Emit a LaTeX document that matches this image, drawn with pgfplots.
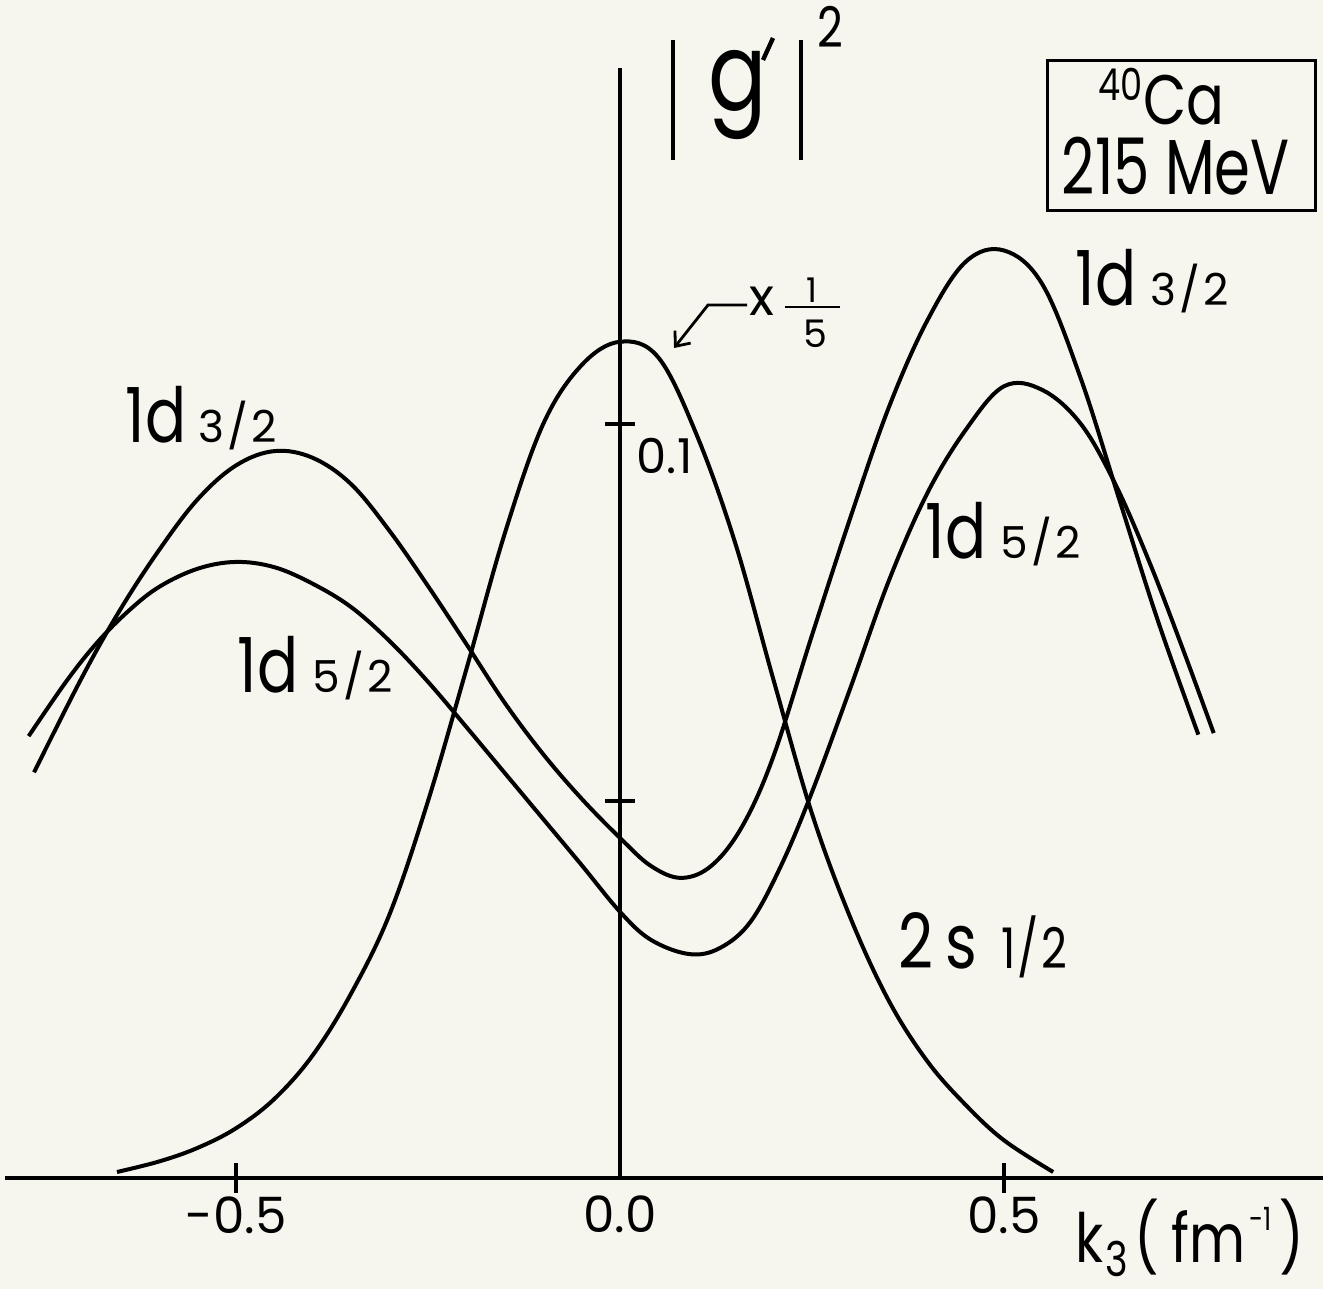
\documentclass[border=0pt]{standalone}
\usepackage{pgfplots}
\pgfplotsset{compat=1.18}
\usetikzlibrary{arrows.meta}
\usepackage{fontspec}
\setmainfont{Poppins}
\newfontfamily\narrow{Poppins}[FakeStretch=0.8]
\newfontfamily\condensed{Poppins}[FakeStretch=0.74]
\definecolor{paper}{RGB}{246,246,239}
\newcommand\fs[1]{\fontsize{#1}{#1}\selectfont}

% |g'|^2 for the nuclear orbitals of 40Ca at 215 MeV
\pgfplotstableread{
x y
-0.763 0.0538
-0.700 0.0665
-0.650 0.0755
-0.600 0.0833
-0.550 0.0900
-0.500 0.0945
-0.450 0.0964
-0.400 0.0955
-0.350 0.0920
-0.300 0.0858
-0.250 0.0785
-0.200 0.0708
-0.150 0.0630
-0.100 0.0562
-0.050 0.0503
0.000 0.0451
0.040 0.0414
0.080 0.0398
0.120 0.0415
0.160 0.0468
0.200 0.0560
0.250 0.0720
0.300 0.0876
0.350 0.1022
0.400 0.1137
0.450 0.1215
0.500 0.1230
0.550 0.1185
0.600 0.1060
0.650 0.0900
0.700 0.0740
0.753 0.0588
}\dthree

\pgfplotstableread{
x y
-0.770 0.0586
-0.720 0.0660
-0.680 0.0711
-0.640 0.0752
-0.600 0.0784
-0.550 0.0808
-0.500 0.0817
-0.450 0.0810
-0.400 0.0788
-0.350 0.0757
-0.300 0.0712
-0.250 0.0658
-0.200 0.0598
-0.150 0.0537
-0.100 0.0476
-0.050 0.0415
0.000 0.0353
0.040 0.0316
0.090 0.0297
0.130 0.0305
0.170 0.0340
0.210 0.0415
0.250 0.0512
0.300 0.0650
0.350 0.0792
0.400 0.0908
0.450 0.0992
0.500 0.1050
0.550 0.1045
0.600 0.1000
0.645 0.0920
0.690 0.0815
0.733 0.0701
0.773 0.0590
}\dfive

% 2s1/2 is shown scaled by 1/5
\pgfplotstableread{
x y
-0.655 0.0008
-0.600 0.0022
-0.550 0.0040
-0.500 0.0066
-0.450 0.0105
-0.400 0.0163
-0.350 0.0245
-0.300 0.0350
-0.250 0.0500
-0.200 0.0675
-0.150 0.0855
-0.100 0.1000
-0.050 0.1078
0.000 0.1109
0.050 0.1088
0.100 0.0985
0.150 0.0842
0.200 0.0660
0.250 0.0483
0.300 0.0345
0.350 0.0235
0.400 0.0155
0.450 0.0097
0.500 0.0050
0.564 0.0008
}\sone

\begin{document}
\begin{tikzpicture}
\fill[paper] (-1.25pt,-27.75pt) rectangle (329.5pt,294.5pt);
\begin{axis}[
  at={(0,0)}, anchor=south west,
  scale only axis, width=329.5pt, height=277.5pt,
  xmin=-0.8008, xmax=0.9154, ymin=0, ymax=0.1472,
  axis lines=middle,
  axis line style={-, line width=0.8pt, black},
  hide obscured x ticks=false, hide obscured y ticks=false,
  xtick={-0.5,0.5}, xticklabels={-0.5,0.5},
  extra x ticks={0}, extra x tick labels={0.0},
  extra x tick style={major tick length=0pt, xticklabel style={yshift=-3.5pt}},
  ytick={0.05,0.1}, yticklabels={},
  tick align=center, major tick length=7.5pt,
  tick style={line width=0.8pt, black},
  xticklabel style={font=\fs{12.5}, anchor=north, yshift=2.5pt},
  clip=false,
]
\addplot[black, line width=1pt, smooth, tension=0.6] table {\dthree};
\addplot[black, line width=1pt, smooth, tension=0.6] table {\dfive};
\addplot[black, line width=1pt, smooth, tension=0.6] table {\sone};
\end{axis}

% curve labels
\node[anchor=base west, inner sep=0] at (30pt,184pt)
  {\narrow\fs{19}1d\hspace{3pt}\rmfamily\fs{11}3\hspace{0.8pt}/\hspace{0.8pt}2};
\node[anchor=base west, inner sep=0] at (58pt,121.5pt)
  {\narrow\fs{19}1d\hspace{3.5pt}\rmfamily\fs{11}5\hspace{0.8pt}/\hspace{0.8pt}2};
\node[anchor=base west, inner sep=0] at (267.5pt,218.25pt)
  {\narrow\fs{19}1d\hspace{3.5pt}\rmfamily\fs{11}3\hspace{0.8pt}/\hspace{0.8pt}2};
\node[anchor=base west, inner sep=0] at (230pt,155pt)
  {\narrow\fs{19}1d\hspace{3.5pt}\rmfamily\fs{11}5\hspace{0.8pt}/\hspace{0.8pt}2};
\node[anchor=base west, inner sep=0] at (223.25pt,52.5pt)
  {\narrow\fs{19}2\hspace{3pt}s\hspace{6pt}\fs{14}1\hspace{0.5pt}/\hspace{0.5pt}2};

% y tick label
\node[anchor=north west, inner sep=0, font=\fs{12}] at (157.75pt,185.25pt) {0.1};

% scale factor of the 2s curve
\draw[line width=0.7pt, -{Straight Barb[length=3pt,width=5pt]}]
  (185.5pt,218.25pt) -- (175.75pt,218.25pt) -- (167.25pt,207.5pt);
\node[inner sep=0, font=\fs{13}] at (189.25pt,219.25pt) {x};
\node[anchor=base, inner sep=0, font=\fs{8.5}] at (201.75pt,219pt) {1};
\draw[line width=0.6pt] (195pt,217.75pt) -- (208.75pt,217.75pt);
\node[anchor=base, inner sep=0, font=\fs{9.5}] at (202.5pt,207.75pt) {5};

% y axis title |g'|^2
\draw[line width=1.1pt] (167pt,284.5pt) -- (167pt,254.5pt);
\draw[line width=1.1pt] (199pt,284.5pt) -- (199pt,254.5pt);
\node[anchor=base, inner sep=0] at (183.25pt,267pt) {\narrow\fs{27}g};
\draw[line width=1.1pt] (189.5pt,279.5pt) -- (192pt,285pt);
\node[anchor=base west, inner sep=0] at (203pt,282.75pt) {\narrow\fs{14}2};

% target box
\draw[line width=0.75pt] (260.5pt,279.5pt) rectangle (327.5pt,242pt);
\node[anchor=base west, inner sep=0] at (273.25pt,263.5pt)
  {\narrow\raisebox{6pt}{\fs{11}40}\fs{17.5}Ca};
\node[anchor=base west, inner sep=0] at (264pt,246pt)
  {\condensed\fs{19.5}215 MeV};

% x axis title
\node[anchor=base west, inner sep=0] at (267.5pt,-21pt)
  {\narrow\fs{17}k\hspace{0.5pt}\raisebox{-3.5pt}{\fs{12}3}\hspace{1.5pt}(\hspace{3pt}fm\hspace{1pt}\raisebox{8pt}{\fs{8}-1}\hspace{2pt})};

\pgfresetboundingbox
\path[use as bounding box] (-1.25pt,-27.75pt) rectangle (329.5pt,294.5pt);
\end{tikzpicture}
\end{document}
